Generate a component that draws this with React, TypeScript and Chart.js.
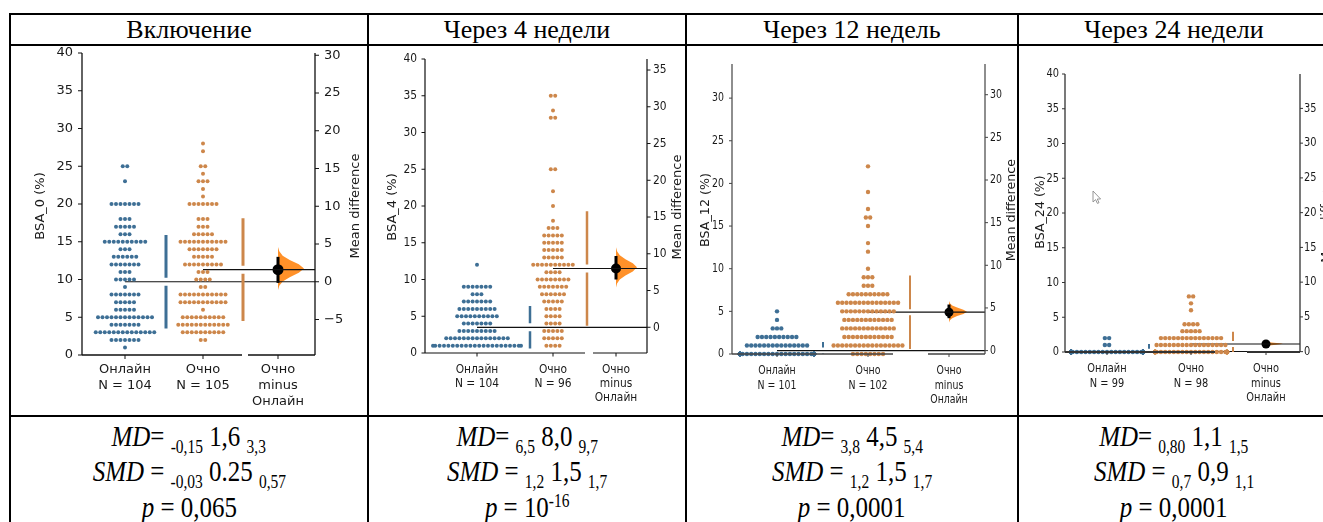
import React, { useEffect, useRef } from "react";
import { Chart, registerables } from "chart.js";

Chart.register(...registerables);

// ---------------- data ----------------
const panelTitles = ["Включение", "Через 4 недели", "Через 12 недель", "Через 24 недели"];
const yAxisTitles = ["BSA_0 (%)", "BSA_4 (%)", "BSA_12 (%)", "BSA_24 (%)"];
const rightAxisTitle = "Mean difference";
const groupNames = ["Онлайн", "Очно"];
const onlineN = [104, 104, 101, 99];
const offlineN = [105, 96, 102, 98];
const contrastLabel = ["Очно", "minus", "Онлайн"];

// swarm values (level) and number of patients at that level
const bsa0OnlineValues = [25, 23, 20, 18, 17, 16, 15, 14, 13, 12, 11, 10, 9, 8, 7, 6, 5, 4, 3, 2, 1];
const bsa0OnlineCounts = [2, 1, 7, 3, 5, 3, 10, 3, 6, 7, 3, 5, 1, 7, 5, 5, 13, 7, 14, 7, 1];
const bsa0OfflineValues = [28, 27, 25, 24, 23, 22, 21, 20, 18, 17, 16, 15, 14, 13, 12, 11, 10, 9, 8, 7, 6, 5, 4, 3, 2];
const bsa0OfflineCounts = [1, 1, 2, 1, 3, 1, 1, 7, 3, 3, 5, 11, 7, 5, 9, 3, 4, 2, 11, 11, 1, 10, 12, 10, 2];

const bsa4OnlineValues = [12, 9, 8, 7, 6, 5, 4, 3, 2, 1];
const bsa4OnlineCounts = [1, 7, 3, 7, 9, 10, 7, 9, 15, 22];
const bsa4OfflineValues = [35, 33, 32, 25, 22, 20, 18, 17, 16, 15, 14, 13, 12, 11, 10, 9, 8, 7, 6, 5, 4, 3, 2, 1];
const bsa4OfflineCounts = [2, 1, 2, 2, 1, 1, 1, 3, 5, 5, 5, 5, 10, 4, 8, 7, 6, 5, 4, 4, 4, 5, 5, 4];

const bsa12OnlineValues = [5, 4, 3, 2, 1, 0];
const bsa12OnlineCounts = [1, 1, 3, 10, 15, 71];
const bsa12OfflineValues = [22, 19, 17, 16, 15, 13, 12, 10, 9, 8, 7, 6, 5, 4, 3, 2, 1, 0];
const bsa12OfflineCounts = [1, 1, 1, 2, 1, 1, 1, 1, 3, 3, 10, 15, 13, 12, 13, 12, 17, 8];

const bsa24OnlineValues = [2, 1, 0];
const bsa24OnlineCounts = [2, 2, 95];
const bsa24OfflineValues = [8, 7, 6, 4, 3, 2, 1, 0];
const bsa24OfflineCounts = [2, 1, 1, 4, 5, 15, 17, 53];

// summary statistics
const controlMeans = [9.7, 3.5, 0.4, 0.05];
const controlSD = [6.2, 2.9, 1.0, 1.1];
const testSD = [6.8, 7.8, 4.3, 1.75];
const meanDiffs = [1.6, 8.0, 4.5, 1.1];
const ciLow = [-0.15, 6.5, 3.8, 0.8];
const ciHigh = [3.3, 9.7, 5.4, 1.5];
const bootLow = [-1.1, 5.4, 3.3, 0.75];
const bootHigh = [4.6, 10.9, 5.8, 1.5];
const bootDensity = [0, 0.05, 0.18, 0.45, 0.8, 1, 0.8, 0.45, 0.18, 0.05, 0];

// axes
const leftAxisMax = [40, 40, 34, 40];
const leftTicks = [
  [0, 5, 10, 15, 20, 25, 30, 35, 40],
  [0, 5, 10, 15, 20, 25, 30, 35, 40],
  [0, 5, 10, 15, 20, 25, 30],
  [0, 5, 10, 15, 20, 25, 30, 35, 40],
];
const rightTicks = [
  [-5, 0, 5, 10, 15, 20, 25, 30],
  [0, 5, 10, 15, 20, 25, 30, 35],
  [0, 5, 10, 15, 20, 25, 30],
  [0, 5, 10, 15, 20, 25, 30, 35],
];

// text under the plots
const mdLow = ["-0,15", "6,5", "3,8", "0,80"];
const mdValue = ["1,6", "8,0", "4,5", "1,1"];
const mdHigh = ["3,3", "9,7", "5,4", "1,5"];
const smdLow = ["-0,03", "1,2", "1,2", "0,7"];
const smdValue = ["0.25", "1,5", "1,5", "0,9"];
const smdHigh = ["0,57", "1,7", "1,7", "1,1"];
const pBase = ["0,065", "10", "0,0001", "0,0001"];
const pExponent = ["", "-16", "", ""];

// ---------------- layout / style ----------------
const BLUE = "#3e6f95";
const ORANGE = "#cd874b";
const VIOLIN = "#ff9129";
const SANS = '"DejaVu Sans", sans-serif';
const SERIF = '"Liberation Serif", "Times New Roman", serif';

const layouts = [
  {
    canvas: { l: 11, t: 46, r: 367, b: 414 }, area: { l: 82, t: 53, r: 315, b: 355 },
    groupPx: [125, 203], diffPx: 278, gapPx: [41, 40], spines: [[82, 242], [248, 315]],
    font: 13, sx: 1, xLabelDy: 15, lineH: 16, leftTitleX: 41, rightTitleX: 356, titleY: 206,
    dotR: 2.0, step: 4.5, maxHalf: [70, 70], diffR: 5.5, ciW: 3, violinW: 26, gapHalf: 4, gapW: 3,
    tickLen: 4, leftGap: 9, rightGap: 9, spineColor: "#111", spineW: 1.3, bottomW: 1.3,
  },
  {
    canvas: { l: 370, t: 46, r: 684, b: 414 }, area: { l: 425, t: 59, r: 647, b: 353 },
    groupPx: [477, 553], diffPx: 616, gapPx: [53, 34], spines: [[425, 585], [593, 647]],
    font: 13, sx: 0.82, xLabelDy: 17, lineH: 14, leftTitleX: 393, rightTitleX: 678, titleY: 207,
    dotR: 2.0, step: 4.4, maxHalf: [44, 50], diffR: 5, ciW: 3, violinW: 21, gapHalf: 4, gapW: 2.5,
    tickLen: 3.5, leftGap: 8, rightGap: 6, spineColor: "#111", spineW: 1.2, bottomW: 1.2,
  },
  {
    canvas: { l: 688, t: 46, r: 1016, b: 414 }, area: { l: 732, t: 64, r: 985, b: 354 },
    groupPx: [777, 868], diffPx: 949, gapPx: [46, 42], spines: [[732, 893], [928, 985]],
    font: 12.7, sx: 0.74, xLabelDy: 17, lineH: 14.5, leftTitleX: 706, rightTitleX: 1012, titleY: 210,
    dotR: 2.2, step: 4.3, maxHalf: [37, 37], diffR: 4.5, ciW: 3, violinW: 18, gapHalf: 3, gapW: 2,
    tickLen: 3, leftGap: 8, rightGap: 5, spineColor: "#444", spineW: 1.2, bottomW: 1.6,
  },
  {
    canvas: { l: 1020, t: 46, r: 1340, b: 414 }, area: { l: 1065, t: 74, r: 1300, b: 352 },
    groupPx: [1107, 1191], diffPx: 1266, gapPx: [42, 42], spines: [[1065, 1215], [1247, 1300]],
    font: 12.6, sx: 0.78, xLabelDy: 17, lineH: 14.5, leftTitleX: 1041, rightTitleX: 1327, titleY: 212,
    dotR: 2.2, step: 4.3, maxHalf: [36, 36], diffR: 4.5, ciW: 3, violinW: 17, gapHalf: 3, gapW: 2,
    tickLen: 3, leftGap: 6, rightGap: 4, spineColor: "#333", spineW: 1.3, bottomW: 2.2,
    cursor: { x: 1093, y: 191 },
  },
];

const columns = [[10, 368], [368, 686], [686, 1018], [1018, 1330]];

const onlineValues = [bsa0OnlineValues, bsa4OnlineValues, bsa12OnlineValues, bsa24OnlineValues];
const onlineCounts = [bsa0OnlineCounts, bsa4OnlineCounts, bsa12OnlineCounts, bsa24OnlineCounts];
const offlineValues = [bsa0OfflineValues, bsa4OfflineValues, bsa12OfflineValues, bsa24OfflineValues];
const offlineCounts = [bsa0OfflineCounts, bsa4OfflineCounts, bsa12OfflineCounts, bsa24OfflineCounts];

function swarm(values: number[], counts: number[], group: number, step: number, maxHalf: number, unit: number) {
  const pts: { x: number; y: number }[] = [];
  values.forEach((v, i) => {
    const n = counts[i];
    for (let k = 0; k < n; k++) {
      let off = (k - (n - 1) / 2) * step;
      off = Math.max(-maxHalf, Math.min(maxHalf, off));
      pts.push({ x: group + off / unit, y: v });
    }
  });
  return pts;
}

function hText(ctx: CanvasRenderingContext2D, s: string, x: number, y: number, align: CanvasTextAlign, sx: number) {
  ctx.save();
  ctx.translate(x, y);
  ctx.scale(sx, 1);
  ctx.textAlign = align;
  ctx.textBaseline = "middle";
  ctx.fillText(s, 0, 0);
  ctx.restore();
}

function vText(ctx: CanvasRenderingContext2D, s: string, x: number, y: number) {
  ctx.save();
  ctx.translate(x, y);
  ctx.rotate(-Math.PI / 2);
  ctx.textAlign = "center";
  ctx.textBaseline = "middle";
  ctx.fillText(s, 0, 0);
  ctx.restore();
}

function fmt(v: number) {
  return v < 0 ? "\u2212" + Math.abs(v) : String(v);
}

function Panel({ idx }: { idx: number }) {
  const ref = useRef<HTMLCanvasElement | null>(null);
  const L: any = layouts[idx];
  const cw = L.canvas.r - L.canvas.l;
  const ch = L.canvas.b - L.canvas.t;

  useEffect(() => {
    const canvas = ref.current;
    if (!canvas) return;
    const unit = L.groupPx[1] - L.groupPx[0];
    const xMin = (L.area.l - L.groupPx[0]) / unit;
    const xMax = (L.area.r - L.groupPx[0]) / unit;
    const diffX = (L.diffPx - L.groupPx[0]) / unit;
    const cm = controlMeans[idx];
    const tm = cm + meanDiffs[idx];
    const yMax = leftAxisMax[idx];
    const ox = L.canvas.l;
    const oy = L.canvas.t;

    const gapLine = (gx: number, m: number, sd: number, g: number) => [
      { x: gx, y: m + sd }, { x: gx, y: m + g }, { x: gx, y: null }, { x: gx, y: m - g }, { x: gx, y: m - sd },
    ];
    const pxPerY = (L.area.b - L.area.t) / yMax;
    const g = L.gapHalf / pxPerY;

    const plugin = {
      id: "gardnerAltman" + idx,
      beforeDatasetsDraw(chart: any) {
        const ctx = chart.ctx as CanvasRenderingContext2D;
        const xs = chart.scales.x;
        const y2 = chart.scales.y2;
        const x0 = xs.getPixelForValue(diffX);
        const lo = bootLow[idx];
        const hi = bootHigh[idx];
        const n = bootDensity.length;
        ctx.save();
        ctx.beginPath();
        ctx.moveTo(x0, y2.getPixelForValue(lo));
        bootDensity.forEach((d, i) => {
          const v = lo + ((hi - lo) * i) / (n - 1);
          ctx.lineTo(x0 + d * L.violinW, y2.getPixelForValue(v));
        });
        ctx.lineTo(x0, y2.getPixelForValue(hi));
        ctx.closePath();
        ctx.fillStyle = VIOLIN;
        ctx.fill();
        ctx.restore();
      },
      afterDatasetsDraw(chart: any) {
        const ctx = chart.ctx as CanvasRenderingContext2D;
        const xs = chart.scales.x;
        const ys = chart.scales.y;
        const y2 = chart.scales.y2;
        const a = chart.chartArea;
        ctx.save();
        ctx.strokeStyle = L.spineColor;
        ctx.lineWidth = L.spineW;
        // spines
        ctx.beginPath();
        ctx.moveTo(a.left, a.top);
        ctx.lineTo(a.left, a.bottom);
        ctx.moveTo(a.right, a.top);
        ctx.lineTo(a.right, a.bottom);
        ctx.stroke();
        ctx.lineWidth = L.bottomW;
        ctx.beginPath();
        L.spines.forEach(([s, e]: number[]) => {
          ctx.moveTo(s - ox, a.bottom);
          ctx.lineTo(e - ox, a.bottom);
        });
        ctx.stroke();
        // ticks
        ctx.lineWidth = 1;
        ctx.beginPath();
        leftTicks[idx].forEach((v) => {
          const y = ys.getPixelForValue(v);
          ctx.moveTo(a.left - L.tickLen, y);
          ctx.lineTo(a.left, y);
        });
        rightTicks[idx].forEach((v) => {
          const y = y2.getPixelForValue(v);
          ctx.moveTo(a.right, y);
          ctx.lineTo(a.right + L.tickLen, y);
        });
        [0, 1, diffX].forEach((v) => {
          const x = xs.getPixelForValue(v);
          ctx.moveTo(x, a.bottom);
          ctx.lineTo(x, a.bottom + L.tickLen);
        });
        ctx.stroke();
        // labels
        ctx.fillStyle = "#1a1a1a";
        ctx.font = `${L.font}px ${SANS}`;
        leftTicks[idx].forEach((v) => {
          hText(ctx, fmt(v), a.left - L.leftGap, ys.getPixelForValue(v), "right", L.sx);
        });
        rightTicks[idx].forEach((v) => {
          hText(ctx, fmt(v), a.right + L.rightGap, y2.getPixelForValue(v), "left", L.sx);
        });
        const xLabels = [
          [groupNames[0], `N = ${onlineN[idx]}`],
          [groupNames[1], `N = ${offlineN[idx]}`],
          contrastLabel,
        ];
        [0, 1, diffX].forEach((v, i) => {
          const x = xs.getPixelForValue(v);
          xLabels[i].forEach((s, j) => {
            hText(ctx, s, x, a.bottom + L.xLabelDy + j * L.lineH, "center", L.sx);
          });
        });
        vText(ctx, yAxisTitles[idx], L.leftTitleX - ox, L.titleY - oy);
        vText(ctx, rightAxisTitle, L.rightTitleX - ox, L.titleY - oy);
        // screen-capture mouse pointer that appears in this panel
        if (L.cursor) {
          const cx = L.cursor.x - ox;
          const cy = L.cursor.y - oy;
          const shape = [[0, 0], [0, 11], [2.6, 8.6], [4.4, 12.4], [6, 11.7], [4.3, 8], [7.6, 8]];
          ctx.beginPath();
          shape.forEach(([px, py], i) => (i === 0 ? ctx.moveTo(cx + px, cy + py) : ctx.lineTo(cx + px, cy + py)));
          ctx.closePath();
          ctx.fillStyle = "#fff";
          ctx.fill();
          ctx.strokeStyle = "#8a8a8a";
          ctx.lineWidth = 0.9;
          ctx.stroke();
        }
        ctx.restore();
      },
    };

    const chart = new Chart(canvas, {
      type: "scatter",
      data: {
        datasets: [
          {
            data: swarm(onlineValues[idx], onlineCounts[idx], 0, L.step, L.maxHalf[0], unit),
            backgroundColor: BLUE, pointRadius: L.dotR, pointBorderWidth: 0, yAxisID: "y", clip: false,
          },
          {
            data: swarm(offlineValues[idx], offlineCounts[idx], 1, L.step, L.maxHalf[1], unit),
            backgroundColor: ORANGE, pointRadius: L.dotR, pointBorderWidth: 0, yAxisID: "y", clip: false,
          },
          {
            type: "line", data: gapLine(L.gapPx[0] / unit, cm, controlSD[idx], g),
            borderColor: BLUE, borderWidth: L.gapW, pointRadius: 0, spanGaps: false, yAxisID: "y", borderCapStyle: "butt",
          },
          {
            type: "line", data: gapLine(1 + L.gapPx[1] / unit, tm, testSD[idx], g),
            borderColor: ORANGE, borderWidth: L.gapW, pointRadius: 0, spanGaps: false, yAxisID: "y", borderCapStyle: "butt",
          },
          {
            type: "line", data: [{ x: 0, y: cm }, { x: xMax, y: cm }],
            borderColor: "#111", borderWidth: 1.2, pointRadius: 0, yAxisID: "y",
          },
          {
            type: "line", data: [{ x: 1, y: tm }, { x: xMax, y: tm }],
            borderColor: "#111", borderWidth: 1.2, pointRadius: 0, yAxisID: "y",
          },
          {
            type: "line", data: [{ x: diffX, y: ciLow[idx] }, { x: diffX, y: ciHigh[idx] }],
            borderColor: "#000", borderWidth: L.ciW, pointRadius: 0, yAxisID: "y2", clip: false,
          },
          {
            data: [{ x: diffX, y: meanDiffs[idx] }],
            backgroundColor: "#000", pointRadius: L.diffR, pointBorderWidth: 0, yAxisID: "y2", clip: false,
          },
        ] as any,
      },
      options: {
        animation: false,
        responsive: false,
        maintainAspectRatio: false,
        events: [],
        layout: {
          padding: {
            left: L.area.l - L.canvas.l,
            top: L.area.t - L.canvas.t,
            right: L.canvas.r - L.area.r,
            bottom: L.canvas.b - L.area.b,
          },
        },
        scales: {
          x: { type: "linear", display: false, min: xMin, max: xMax },
          y: { type: "linear", display: false, min: 0, max: yMax },
          y2: { type: "linear", display: false, position: "right", min: -cm, max: yMax - cm },
        },
        plugins: { legend: { display: false }, tooltip: { enabled: false } },
      } as any,
      plugins: [plugin],
    });
    return () => chart.destroy();
  }, [idx]);

  return (
    <canvas
      ref={ref}
      width={cw}
      height={ch}
      style={{ position: "absolute", left: L.canvas.l, top: L.canvas.t, width: cw, height: ch }}
    />
  );
}

function Sub({ children }: { children: React.ReactNode }) {
  return <span style={{ fontSize: 18, position: "relative", top: 7 }}>{children}</span>;
}
function Sup({ children }: { children: React.ReactNode }) {
  return <span style={{ fontSize: 18, position: "relative", top: -10 }}>{children}</span>;
}

function Line({ left, width, top, children }: { left: number; width: number; top: number; children: React.ReactNode }) {
  return (
    <div
      style={{
        position: "absolute", left, width, top, height: 35, lineHeight: "35px",
        textAlign: "center", fontFamily: SERIF, fontSize: 29, color: "#000", whiteSpace: "nowrap",
      }}
    >
      <span style={{ display: "inline-block", transform: "scaleX(0.86)", transformOrigin: "50% 50%" }}>{children}</span>
    </div>
  );
}

export default function App() {
  const hl = (top: number, h: number) => (
    <div style={{ position: "absolute", left: 10, top, width: 1320, height: h, background: "#000" }} />
  );
  const vl = (left: number, w: number) => (
    <div style={{ position: "absolute", left, top: 13, width: w, height: 520, background: "#000" }} />
  );
  return (
    <div style={{ position: "absolute", left: 0, top: 0, width: 1323, height: 522, overflow: "hidden", background: "#fff" }}>
      {[0, 1, 2, 3].map((i) => (
        <Panel key={i} idx={i} />
      ))}
      {hl(13, 2)}
      {hl(44, 1.5)}
      {hl(415, 2)}
      {vl(9, 2)}
      {vl(367, 2)}
      {vl(685, 2)}
      {vl(1017, 2)}
      {columns.map(([l, r], i) => (
        <div
          key={"h" + i}
          style={{
            position: "absolute", left: l, width: r - l, top: 15, height: 29, lineHeight: "30px",
            textAlign: "center", fontFamily: SERIF, fontSize: 26, color: "#000", whiteSpace: "nowrap",
          }}
        >
          {panelTitles[i]}
        </div>
      ))}
      {columns.map(([l, r], i) => (
        <React.Fragment key={"t" + i}>
          <Line left={l} width={r - l} top={419}>
            <i>MD</i>= <Sub>{mdLow[i]}</Sub> {mdValue[i]} <Sub>{mdHigh[i]}</Sub>
          </Line>
          <Line left={l} width={r - l} top={454}>
            <i>SMD</i> = <Sub>{smdLow[i]}</Sub> {smdValue[i]} <Sub>{smdHigh[i]}</Sub>
          </Line>
          <Line left={l} width={r - l} top={490}>
            <i>p</i> = {pBase[i]}
            {pExponent[i] ? <Sup>{pExponent[i]}</Sup> : null}
          </Line>
        </React.Fragment>
      ))}
    </div>
  );
}
